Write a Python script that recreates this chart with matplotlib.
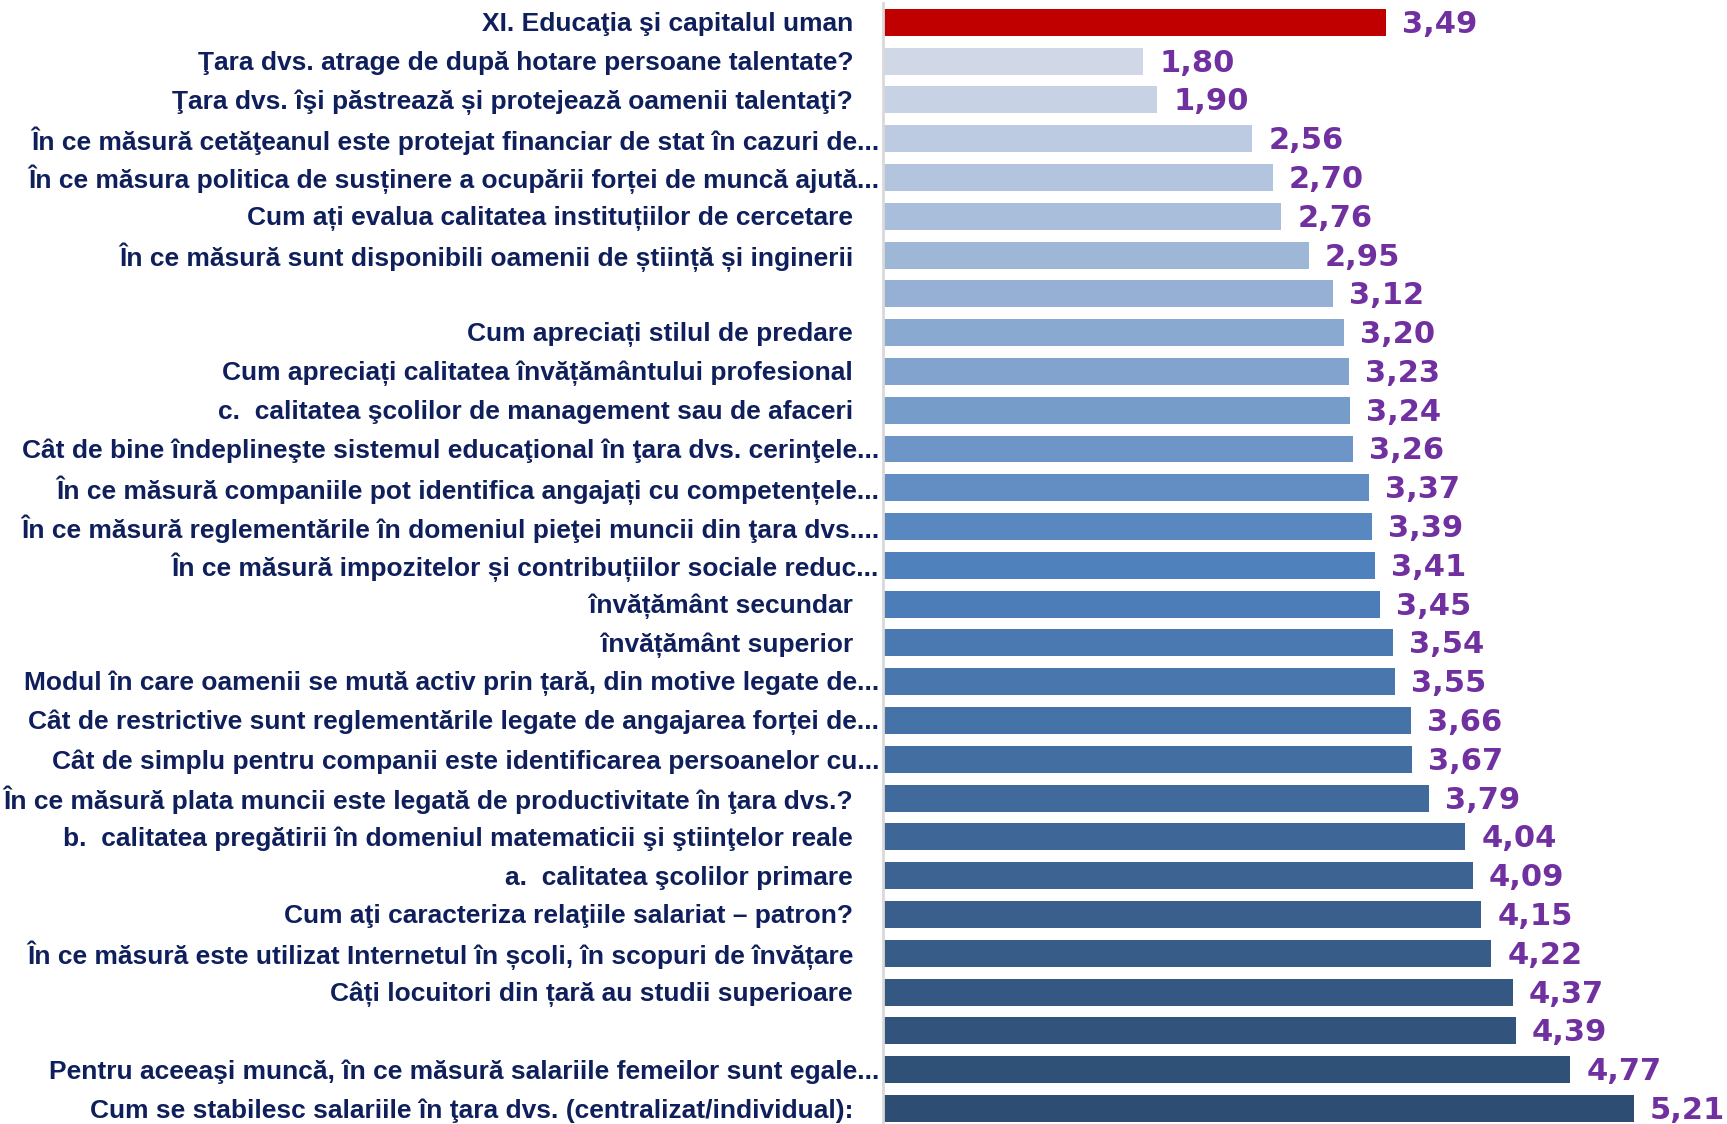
import numpy as np
import matplotlib
matplotlib.use("Agg")
import matplotlib.pyplot as plt
from matplotlib.colors import LinearSegmentedColormap

# Categories, top to bottom, as shown in the chart
categories = [
    "XI. Educaţia şi capitalul uman",
    "Ţara dvs. atrage de după hotare persoane talentate?",
    "Ţara dvs. îşi păstrează și protejează oamenii talentaţi?",
    "În ce măsură cetăţeanul este protejat financiar de stat în cazuri de...",
    "În ce măsura politica de susținere a ocupării forței de muncă ajută...",
    "Cum ați evalua calitatea instituțiilor de cercetare",
    "În ce măsură sunt disponibili oamenii de știință și inginerii",
    "",
    "Cum apreciați stilul de predare",
    "Cum apreciați calitatea învățământului profesional",
    "c.  calitatea şcolilor de management sau de afaceri",
    "Cât de bine îndeplineşte sistemul educaţional în ţara dvs. cerinţele...",
    "În ce măsură companiile pot identifica angajați cu competențele...",
    "În ce măsură reglementările în domeniul pieţei muncii din ţara dvs....",
    "În ce măsură impozitelor și contribuțiilor sociale reduc...",
    "învățământ secundar",
    "învățământ superior",
    "Modul în care oamenii se mută activ prin țară, din motive legate de...",
    "Cât de restrictive sunt reglementările legate de angajarea forței de...",
    "Cât de simplu pentru companii este identificarea persoanelor cu...",
    "În ce măsură plata muncii este legată de productivitate în ţara dvs.?",
    "b.  calitatea pregătirii în domeniul matematicii şi ştiinţelor reale",
    "a.  calitatea şcolilor primare",
    "Cum aţi caracteriza relaţiile salariat – patron?",
    "În ce măsură este utilizat Internetul în școli, în scopuri de învățare",
    "Câți locuitori din țară au studii superioare",
    "",
    "Pentru aceeaşi muncă, în ce măsură salariile femeilor sunt egale...",
    "Cum se stabilesc salariile în ţara dvs. (centralizat/individual):",
]

scores = [3.49, 1.80, 1.90, 2.56, 2.70, 2.76, 2.95, 3.12, 3.20, 3.23,
          3.24, 3.26, 3.37, 3.39, 3.41, 3.45, 3.54, 3.55, 3.66, 3.67,
          3.79, 4.04, 4.09, 4.15, 4.22, 4.37, 4.39, 4.77, 5.21]

W, H, DPI = 1727, 1124, 100
LABEL_COLOR = "#0f1f5c"
VALUE_COLOR = "#7030a0"
LABEL_FONT = ["Liberation Sans", "DejaVu Sans"]
VALUE_FONT = ["DejaVu Sans"]

# bar colours: red summary bar, then a light-to-dark blue gradient
grad = LinearSegmentedColormap.from_list(
    "blues", [(0, "#d0d8e8"), (0.48, "#4f81bd"), (1, "#2e4d72")])
n = len(scores)
colors = ["#c00000"] + [grad(k / (n - 2)) for k in range(n - 1)]

fig = plt.figure(figsize=(W / DPI, H / DPI), dpi=DPI)
x0 = 884 / W
pitch = 38.79
top_px = 22.3 - pitch / 2
ax_h = pitch * n / H
ax = fig.add_axes([x0, 1 - top_px / H - ax_h, 1 - x0, ax_h])

px_per_unit = 143.9
ax.set_xlim(0, (W - 884) / px_per_unit)
ax.set_ylim(n - 0.5, -0.5)

y = np.arange(n)
ax.barh(y, scores, height=0.695, color=colors, linewidth=0)

# value labels
for yi, v in zip(y, scores):
    ax.annotate(f"{v:.2f}".replace(".", ","), xy=(v, yi), xytext=(16, -2),
                textcoords="offset pixels", va="center", ha="left",
                fontsize=22, fontweight="bold", color=VALUE_COLOR,
                family=VALUE_FONT, annotation_clip=False)

# category labels, right aligned against the axis
for yi, lab in zip(y, categories):
    off = -5 if lab.endswith("...") else -31
    ax.annotate(lab, xy=(0, yi), xycoords=("axes fraction", "data"),
                xytext=(off, -2), textcoords="offset pixels",
                va="center", ha="right", fontsize=19, fontweight="bold",
                color=LABEL_COLOR, family=LABEL_FONT, annotation_clip=False)

for s in ["top", "right", "bottom"]:
    ax.spines[s].set_visible(False)
ax.spines["left"].set_color("#d9d9d9")
ax.spines["left"].set_linewidth(2)
ax.spines["left"].set_position(("outward", 1))
ax.set_xticks([])
ax.set_yticks([])

fig.savefig("out.png", dpi=DPI)
